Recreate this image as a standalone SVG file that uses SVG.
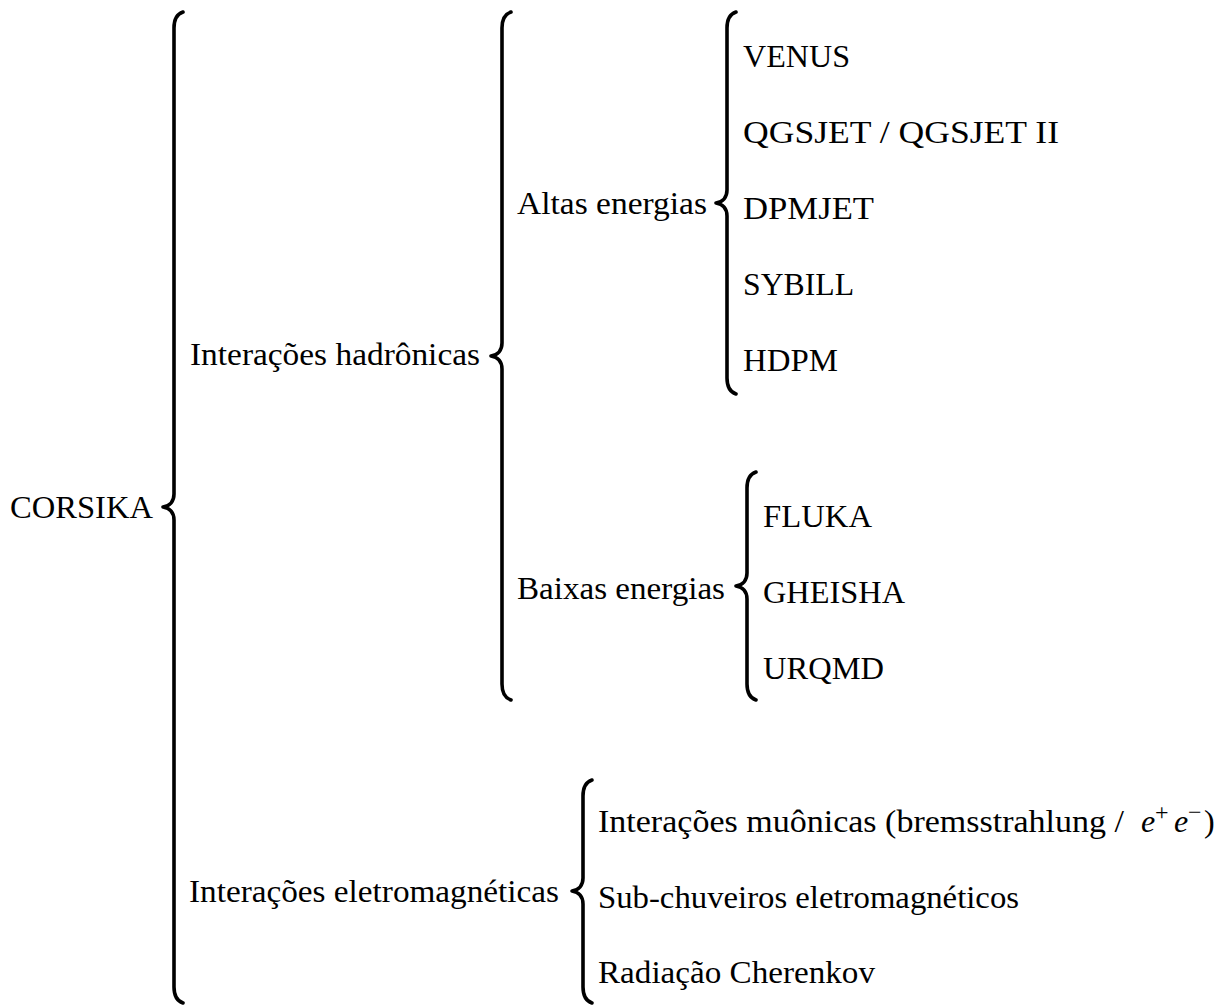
<svg xmlns="http://www.w3.org/2000/svg" width="1228" height="1006" viewBox="0 0 1228 1006" font-family="'Liberation Serif', 'Times New Roman', 'DejaVu Serif', serif">
<style>
text{font-family:'Liberation Serif','Times New Roman',serif;font-size:32px;fill:#000}
.br{fill:none;stroke:#000;stroke-width:3.6;stroke-linecap:round;stroke-linejoin:round}
.it{font-style:italic}
.sup{font-size:24px}
</style>
<rect width="1228" height="1006" fill="#fff"/>
<g id="connectors">
<path class="br" d="M 183 12 C 177 14 174 19 174 28 L 174 494 C 174 501 170 506 163 507 C 170 508 174 513 174 520 L 174 987 C 174 996 177 1001 183 1003"/>
<path class="br" d="M 511 12 C 505 14 502 19 502 28 L 502 343 C 502 350 498 355 491 356 C 498 357 502 362 502 369 L 502 684 C 502 693 505 698 511 700"/>
<path class="br" d="M 736 12 C 730 14 727 19 727 28 L 727 190 C 727 197 723 202 716 203 C 723 204 727 209 727 216 L 727 378 C 727 387 730 392 736 394"/>
<path class="br" d="M 756 472 C 750 474 747 479 747 488 L 747 573 C 747 580 743 585 736 586 C 743 587 747 592 747 599 L 747 684 C 747 693 750 698 756 700"/>
<path class="br" d="M 592 780 C 586 782 583 787 583 796 L 583 878 C 583 885 579 890 572 891 C 579 892 583 897 583 904 L 583 987 C 583 996 586 1001 592 1003"/>
</g>
<g id="corsika"><text x="10" y="518" textLength="143" lengthAdjust="spacingAndGlyphs">CORSIKA</text></g>
<g id="hadronicas"><text x="190" y="365" textLength="290" lengthAdjust="spacingAndGlyphs">Interações hadrônicas</text></g>
<g id="altas"><text x="517" y="214" textLength="190" lengthAdjust="spacingAndGlyphs">Altas energias</text></g>
<g id="venus"><text x="743" y="67" textLength="107" lengthAdjust="spacingAndGlyphs">VENUS</text></g>
<g id="qgsjet"><text x="743" y="143" textLength="316" lengthAdjust="spacingAndGlyphs">QGSJET / QGSJET II</text></g>
<g id="dpmjet"><text x="743" y="219" textLength="131" lengthAdjust="spacingAndGlyphs">DPMJET</text></g>
<g id="sybill"><text x="743" y="295" textLength="111" lengthAdjust="spacingAndGlyphs">SYBILL</text></g>
<g id="hdpm"><text x="743" y="371" textLength="95" lengthAdjust="spacingAndGlyphs">HDPM</text></g>
<g id="baixas"><text x="517" y="599" textLength="208" lengthAdjust="spacingAndGlyphs">Baixas energias</text></g>
<g id="fluka"><text x="763" y="527" textLength="109" lengthAdjust="spacingAndGlyphs">FLUKA</text></g>
<g id="gheisha"><text x="763" y="603" textLength="142" lengthAdjust="spacingAndGlyphs">GHEISHA</text></g>
<g id="urqmd"><text x="763" y="679" textLength="121" lengthAdjust="spacingAndGlyphs">URQMD</text></g>
<g id="eletromagneticas"><text x="189" y="902" textLength="370" lengthAdjust="spacingAndGlyphs">Interações eletromagnéticas</text></g>
<g id="muonicas">
<text x="598" y="832" textLength="526" lengthAdjust="spacingAndGlyphs">Interações muônicas (bremsstrahlung /</text>
<text x="1141" y="832" class="it">e</text>
<text x="1155" y="820" class="sup">+</text>
<text x="1174" y="832" class="it">e</text>
<text x="1188" y="820" class="sup">−</text>
<text x="1204" y="832">)</text>
</g>
<g id="subchuveiros"><text x="598" y="908" textLength="421" lengthAdjust="spacingAndGlyphs">Sub-chuveiros eletromagnéticos</text></g>
<g id="cherenkov"><text x="598" y="983" textLength="277" lengthAdjust="spacingAndGlyphs">Radiação Cherenkov</text></g>
</svg>
